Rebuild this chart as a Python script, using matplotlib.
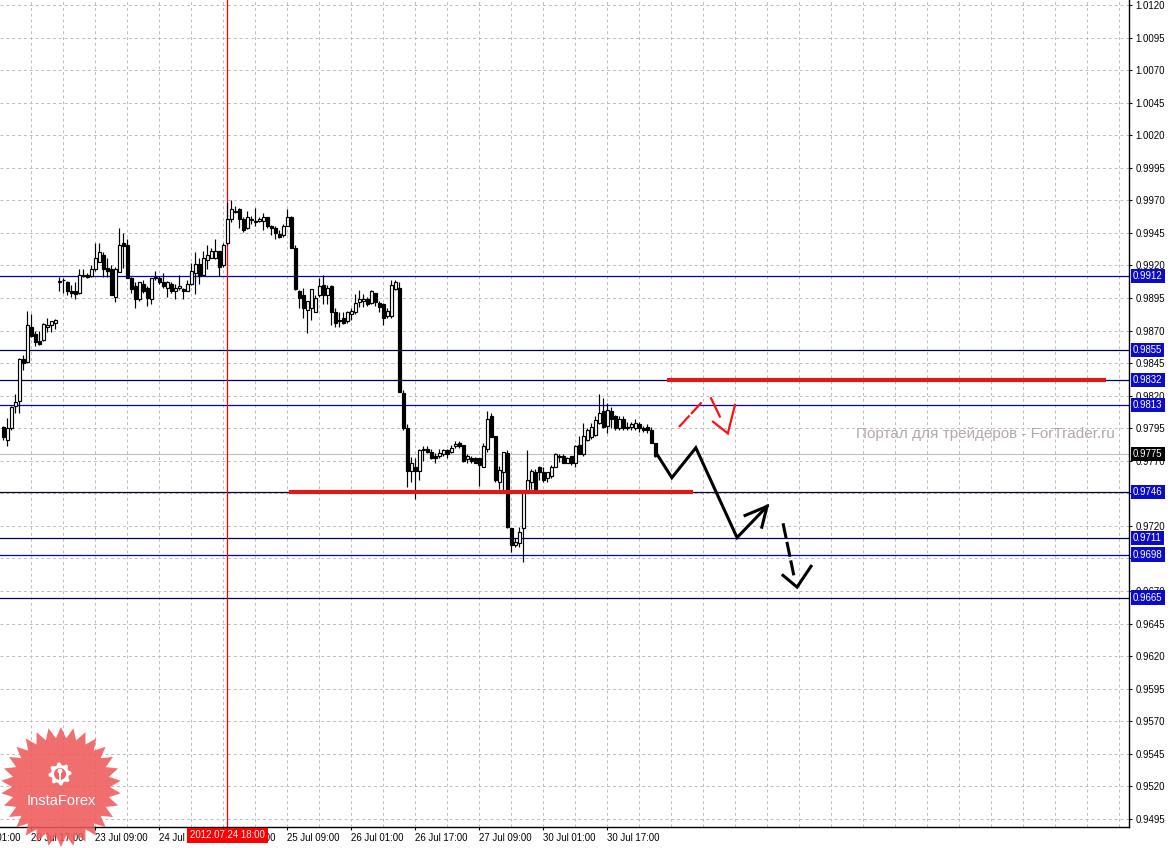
import numpy as np
import matplotlib
matplotlib.use('Agg')
import matplotlib.pyplot as plt
import matplotlib.transforms as mtransforms
from matplotlib.patches import Polygon, Circle, Rectangle

# H1 candles, EURCHF-like quotes, 20 Jul 2012 .. 30 Jul 2012
opens = [0.9796, 0.9786, 0.9795, 0.9812, 0.9816, 0.9848, 0.9846, 0.9873, 0.9867, 0.9862,
         0.9863, 0.9873, 0.9874, 0.9876, 0.9908, 0.9909, 0.9907, 0.9900, 0.9900, 0.9899,
         0.9912, 0.9913, 0.9912, 0.9917, 0.9923, 0.9928, 0.9918, 0.9917, 0.9896, 0.9915,
         0.9937, 0.9936, 0.9910, 0.9904, 0.9894, 0.9906, 0.9903, 0.9894, 0.9910, 0.9910,
         0.9907, 0.9903, 0.9906, 0.9900, 0.9903, 0.9902, 0.9900, 0.9906, 0.9914, 0.9921,
         0.9913, 0.9924, 0.9926, 0.9926, 0.9931, 0.9920, 0.9937, 0.9956, 0.9961, 0.9963,
         0.9956, 0.9949, 0.9956, 0.9954, 0.9954, 0.9954, 0.9957, 0.9950, 0.9949, 0.9944,
         0.9943, 0.9950, 0.9957, 0.9933, 0.9900, 0.9897, 0.9886, 0.9887, 0.9884, 0.9897,
         0.9905, 0.9897, 0.9904, 0.9884, 0.9878, 0.9880, 0.9877, 0.9883, 0.9884, 0.9892,
         0.9893, 0.9894, 0.9891, 0.9899, 0.9891, 0.9890, 0.9881, 0.9881, 0.9902, 0.9903,
         0.9822, 0.9795, 0.9762, 0.9765, 0.9762, 0.9778, 0.9779, 0.9777, 0.9774, 0.9774,
         0.9775, 0.9778, 0.9777, 0.9781, 0.9784, 0.9782, 0.9771, 0.9772, 0.9772, 0.9772,
         0.9765, 0.9779, 0.9804, 0.9789, 0.9754, 0.9761, 0.9776, 0.9718, 0.9705, 0.9707,
         0.9718, 0.9745, 0.9754, 0.9761, 0.9765, 0.9761, 0.9757, 0.9758, 0.9765, 0.9774,
         0.9774, 0.9768, 0.9774, 0.9768, 0.9782, 0.9775, 0.9786, 0.9788, 0.9790, 0.9799,
         0.9808, 0.9797, 0.9808, 0.9804, 0.9795, 0.9802, 0.9796, 0.9796, 0.9795, 0.9798,
         0.9795, 0.9796, 0.9794, 0.9784]
highs = [0.9797, 0.9803, 0.9812, 0.9821, 0.9849, 0.9851, 0.9885, 0.9883, 0.9870, 0.9870,
         0.9876, 0.9880, 0.9877, 0.9879, 0.9911, 0.9910, 0.9908, 0.9905, 0.9907, 0.9917,
         0.9917, 0.9914, 0.9920, 0.9937, 0.9937, 0.9930, 0.9926, 0.9920, 0.9919, 0.9949,
         0.9945, 0.9940, 0.9911, 0.9907, 0.9907, 0.9909, 0.9904, 0.9910, 0.9916, 0.9912,
         0.9914, 0.9908, 0.9907, 0.9906, 0.9913, 0.9903, 0.9909, 0.9922, 0.9930, 0.9926,
         0.9931, 0.9936, 0.9933, 0.9940, 0.9931, 0.9937, 0.9969, 0.9970, 0.9966, 0.9964,
         0.9957, 0.9962, 0.9958, 0.9964, 0.9957, 0.9960, 0.9957, 0.9951, 0.9950, 0.9947,
         0.9952, 0.9963, 0.9958, 0.9936, 0.9901, 0.9903, 0.9893, 0.9902, 0.9897, 0.9910,
         0.9913, 0.9905, 0.9905, 0.9887, 0.9884, 0.9884, 0.9885, 0.9887, 0.9898, 0.9901,
         0.9898, 0.9896, 0.9901, 0.9899, 0.9893, 0.9891, 0.9887, 0.9909, 0.9909, 0.9907,
         0.9824, 0.9798, 0.9773, 0.9772, 0.9779, 0.9781, 0.9781, 0.9779, 0.9776, 0.9779,
         0.9779, 0.9779, 0.9782, 0.9785, 0.9785, 0.9782, 0.9775, 0.9774, 0.9773, 0.9772,
         0.9784, 0.9808, 0.9807, 0.9789, 0.9766, 0.9777, 0.9778, 0.9718, 0.9711, 0.9719,
         0.9745, 0.9778, 0.9764, 0.9764, 0.9766, 0.9765, 0.9761, 0.9767, 0.9776, 0.9775,
         0.9775, 0.9773, 0.9774, 0.9782, 0.9789, 0.9799, 0.9795, 0.9799, 0.9804, 0.9821,
         0.9818, 0.9814, 0.9811, 0.9805, 0.9804, 0.9804, 0.9800, 0.9800, 0.9802, 0.9800,
         0.9797, 0.9798, 0.9796, 0.9784]
lows = [0.9786, 0.9781, 0.9794, 0.9807, 0.9807, 0.9840, 0.9845, 0.9865, 0.9858, 0.9859,
        0.9862, 0.9869, 0.9869, 0.9871, 0.9900, 0.9899, 0.9897, 0.9896, 0.9894, 0.9898,
        0.9911, 0.9910, 0.9911, 0.9916, 0.9923, 0.9911, 0.9911, 0.9897, 0.9892, 0.9915,
        0.9918, 0.9910, 0.9899, 0.9887, 0.9893, 0.9899, 0.9889, 0.9890, 0.9909, 0.9906,
        0.9903, 0.9896, 0.9899, 0.9894, 0.9901, 0.9894, 0.9900, 0.9905, 0.9898, 0.9906,
        0.9913, 0.9917, 0.9926, 0.9925, 0.9912, 0.9919, 0.9936, 0.9953, 0.9960, 0.9949,
        0.9946, 0.9948, 0.9952, 0.9950, 0.9953, 0.9947, 0.9949, 0.9943, 0.9940, 0.9941,
        0.9942, 0.9950, 0.9933, 0.9901, 0.9887, 0.9880, 0.9868, 0.9878, 0.9884, 0.9896,
        0.9890, 0.9890, 0.9874, 0.9873, 0.9873, 0.9875, 0.9876, 0.9878, 0.9883, 0.9888,
        0.9888, 0.9889, 0.9890, 0.9889, 0.9884, 0.9874, 0.9880, 0.9880, 0.9901, 0.9823,
        0.9794, 0.9750, 0.9754, 0.9741, 0.9755, 0.9770, 0.9776, 0.9771, 0.9768, 0.9772,
        0.9774, 0.9772, 0.9776, 0.9780, 0.9780, 0.9769, 0.9768, 0.9768, 0.9768, 0.9751,
        0.9765, 0.9777, 0.9788, 0.9754, 0.9748, 0.9745, 0.9718, 0.9700, 0.9704, 0.9704,
        0.9692, 0.9745, 0.9748, 0.9747, 0.9755, 0.9754, 0.9754, 0.9757, 0.9765, 0.9769,
        0.9768, 0.9768, 0.9767, 0.9765, 0.9775, 0.9774, 0.9785, 0.9787, 0.9789, 0.9798,
        0.9795, 0.9791, 0.9795, 0.9794, 0.9794, 0.9794, 0.9794, 0.9794, 0.9794, 0.9792,
        0.9792, 0.9791, 0.9784, 0.9773]
closes = [0.9788, 0.9795, 0.9811, 0.9815, 0.9848, 0.9845, 0.9874, 0.9866, 0.9861, 0.9860,
          0.9875, 0.9874, 0.9877, 0.9878, 0.9907, 0.9909, 0.9900, 0.9899, 0.9898, 0.9913,
          0.9913, 0.9911, 0.9917, 0.9926, 0.9930, 0.9917, 0.9916, 0.9897, 0.9917, 0.9936,
          0.9935, 0.9910, 0.9902, 0.9894, 0.9907, 0.9900, 0.9895, 0.9910, 0.9911, 0.9907,
          0.9904, 0.9907, 0.9900, 0.9903, 0.9904, 0.9900, 0.9906, 0.9916, 0.9921, 0.9912,
          0.9926, 0.9928, 0.9931, 0.9931, 0.9919, 0.9936, 0.9956, 0.9963, 0.9962, 0.9956,
          0.9947, 0.9957, 0.9955, 0.9953, 0.9956, 0.9957, 0.9950, 0.9949, 0.9945, 0.9942,
          0.9950, 0.9957, 0.9933, 0.9902, 0.9895, 0.9887, 0.9893, 0.9902, 0.9895, 0.9904,
          0.9897, 0.9903, 0.9884, 0.9876, 0.9877, 0.9876, 0.9884, 0.9885, 0.9891, 0.9894,
          0.9894, 0.9890, 0.9900, 0.9892, 0.9888, 0.9880, 0.9885, 0.9905, 0.9907, 0.9823,
          0.9795, 0.9762, 0.9768, 0.9762, 0.9778, 0.9779, 0.9777, 0.9772, 0.9772, 0.9776,
          0.9778, 0.9775, 0.9780, 0.9783, 0.9781, 0.9770, 0.9774, 0.9770, 0.9768, 0.9767,
          0.9781, 0.9802, 0.9788, 0.9755, 0.9763, 0.9777, 0.9719, 0.9705, 0.9708, 0.9715,
          0.9745, 0.9755, 0.9762, 0.9748, 0.9761, 0.9755, 0.9761, 0.9765, 0.9775, 0.9773,
          0.9768, 0.9772, 0.9768, 0.9781, 0.9775, 0.9789, 0.9794, 0.9796, 0.9801, 0.9807,
          0.9796, 0.9809, 0.9802, 0.9795, 0.9802, 0.9795, 0.9795, 0.9798, 0.9799, 0.9795,
          0.9794, 0.9794, 0.9784, 0.9774]

# time axis labels (bar index -> label)
tick_bars = [7, 23, 39, 55, 71, 87, 103, 119, 135, 151]
tick_labels = ['20 Jul 17:00', '23 Jul 09:00', '24 Jul 01:00', '24 Jul 17:00',
               '25 Jul 09:00', '26 Jul 01:00', '26 Jul 17:00', '27 Jul 09:00', '30 Jul 01:00',
               '30 Jul 17:00']
first_bar, first_label = -9, '20 Jul 01:00'
cursor_bar = 56
cursor_label = '2012.07.24 18:00'

# horizontal levels drawn by the analyst
levels = [0.9912, 0.9855, 0.9832, 0.9813, 0.9746, 0.9711, 0.9698, 0.9665]
level_colors = ['#0000c8', '#00005a', '#00005a', '#0000c8', '#00003c', '#00005a', '#0000c8', '#00005a']
bid = 0.9775

# red support / resistance segments (bar_from, bar_to, price)
red_segments = [(165.9, 275.6, 0.9832), (71.4, 172.4, 0.9746)]

# forecast drawings (bar, price)
path_main = [(163.6, 0.9774), (167.1, 0.9757), (173.1, 0.9780), (183.4, 0.9711), (190.9, 0.9735)]
path_main_head = [(185.4, 0.9728), (190.9, 0.9735), (189.6, 0.9719)]
path_alt = [(194.9, 0.9722), (197.6, 0.9682)]
path_alt_head = [(194.9, 0.9682), (198.4, 0.9673), (201.9, 0.9689)]
red_up = [(168.9, 0.9796), (174.6, 0.9815)]
red_down = [(176.9, 0.9818), (179.1, 0.9804)]
red_down_head = [(177.4, 0.9800), (181.1, 0.9791), (182.9, 0.9813)]

FONT = 'Liberation Sans'
FS = 6.9
W, H = 1172, 848
fig = plt.figure(figsize=(W / 100, H / 100), dpi=100)
ax = fig.add_axes([0, 21 / H, 1129 / W, 827 / H])

# grid
yticks = np.round(np.arange(0.9495, 1.01201, 0.0025), 4)
for yv in yticks:
    ax.axhline(yv, color='#c3b8c3', lw=0.7, ls=(0, (3, 3)), zorder=1)
for xv in range(7, 282, 8):
    ax.axvline(xv, color='#c3b8c3', lw=0.7, ls=(0, (3, 3)), zorder=1)

# levels
for lv, col in zip(levels, level_colors):
    ax.axhline(lv, color=col, lw=0.9, zorder=2)
ax.axhline(bid, color='#c0c0c0', lw=0.8, zorder=1.5)
ax.axvline(cursor_bar, color='red', lw=0.9, zorder=2)

# candles
n = len(opens)
xs = np.arange(n)
o = np.array(opens)
c = np.array(closes)
ax.vlines(xs, lows, highs, color='black', lw=0.85, zorder=3)
up = c >= o
ax.bar(xs, np.abs(c - o), bottom=np.minimum(o, c), width=0.55,
       color=np.where(up, 'white', 'black'), edgecolor='black', linewidth=0.85, zorder=4)

# red S/R
for x0, x1, p in red_segments:
    ax.plot([x0, x1], [p, p], color='#e01818', lw=3.0, solid_capstyle='butt', zorder=5)

def draw(pts, color, lw, ls='-'):
    ax.plot([q[0] for q in pts], [q[1] for q in pts], color=color, lw=lw, ls=ls,
            solid_joinstyle='miter', zorder=6)

draw(path_main, 'black', 2.2)
draw(path_main_head, 'black', 2.2)
ax.plot([path_alt[0][0], path_alt[1][0]], [path_alt[0][1], path_alt[1][1]], color='black', lw=2.2,
        ls=(0, (5, 1.2)), zorder=6)
draw(path_alt_head, 'black', 2.2)
ax.plot([red_up[0][0], red_up[1][0]], [red_up[0][1], red_up[1][1]], color='#ff1010', lw=1.6,
        ls=(0, (7, 1.0)), zorder=6)
draw(red_down, '#ff1010', 1.6)
draw(red_down_head, '#ff1010', 1.6)

# axes cosmetics
for s in ['top', 'left']:
    ax.spines[s].set_visible(False)
ax.spines['right'].set_linewidth(1.0)
ax.spines['bottom'].set_linewidth(1.0)
ax.yaxis.tick_right()
ax.set_yticks(yticks)
ax.set_yticklabels(['%.4f' % v for v in yticks], fontsize=FS, family=FONT)
ax.tick_params(axis='y', length=2.5, width=0.8, pad=2)
ax.set_xticks(tick_bars)
ax.set_xticklabels(tick_labels, fontsize=FS, family=FONT, ha='left')
ax.tick_params(axis='x', length=2.5, width=0.8, pad=1.5)

# limits last: set_xticks may widen the view
ax.set_xlim(-0.875, 281.4)
ax.set_ylim(0.94888, 1.01238)

xtrans = mtransforms.blended_transform_factory(ax.transData, ax.transAxes)
ax.text(first_bar, -5.6 / 827, first_label, transform=xtrans, ha='left', va='top',
        fontsize=FS, family=FONT, clip_on=False)

# price labels on the right scale
ytrans = mtransforms.blended_transform_factory(ax.transAxes, ax.transData)
for lv in levels:
    ax.text(1133 / 1129, lv, '%.4f' % lv, transform=ytrans, ha='left', va='center',
            fontsize=FS, family=FONT, color='white', clip_on=False, zorder=7,
            bbox=dict(boxstyle='square,pad=0.22', fc='#0c0cc8', ec='none'))
ax.text(1133 / 1129, bid, '%.4f' % bid, transform=ytrans, ha='left', va='center',
        fontsize=FS, family=FONT, color='white', clip_on=False, zorder=7,
        bbox=dict(boxstyle='square,pad=0.22', fc='black', ec='none'))

ax.text(cursor_bar, -8.5 / 827, cursor_label, transform=xtrans, ha='center', va='center',
        fontsize=FS, family=FONT, color='white', clip_on=False, zorder=7,
        bbox=dict(boxstyle='square,pad=0.3', fc='#ff0000', ec='none'))

# overlay: watermark and logo, in pixel coordinates
ov = fig.add_axes([0, 0, 1, 1])
ov.set_xlim(0, W)
ov.set_ylim(H, 0)
ov.axis('off')
ov.text(856, 434, 'Портал для трейдеров - ForTrader.ru', ha='left', va='center',
        fontsize=11, family=FONT, color='#b3a8a8')

cx, cy = 61, 787
ang = np.linspace(0, 2 * np.pi, 61)[:-1] + np.pi / 2
rad = np.where(np.arange(60) % 2 == 0, 60, 49)
star = np.column_stack([cx + rad * np.cos(ang), cy - rad * np.sin(ang)])
ov.add_patch(Polygon(star, closed=True, fc='#f05a5a', ec='none', alpha=0.88, zorder=10))

gx, gy = 60, 774
ga = np.linspace(0, 2 * np.pi, 33)[:-1]
gr = np.where((np.arange(32) // 2) % 2 == 0, 11.5, 9)
gear = np.column_stack([gx + gr * np.cos(ga), gy - gr * np.sin(ga)])
ov.add_patch(Polygon(gear, closed=True, fc='white', ec='none', zorder=11))
ov.add_patch(Circle((gx, gy), 6, fc='#f26666', ec='none', zorder=12))
ov.add_patch(Rectangle((gx - 1.3, gy - 3), 2.6, 12, fc='white', ec='none', zorder=13))
ov.add_patch(Circle((gx, gy - 3), 2.4, fc='white', ec='none', zorder=13))
ov.text(61, 801, 'InstaForex', ha='center', va='center', fontsize=10.5, family=FONT,
        color='white', zorder=14)

plt.savefig('out.png', dpi=100)
